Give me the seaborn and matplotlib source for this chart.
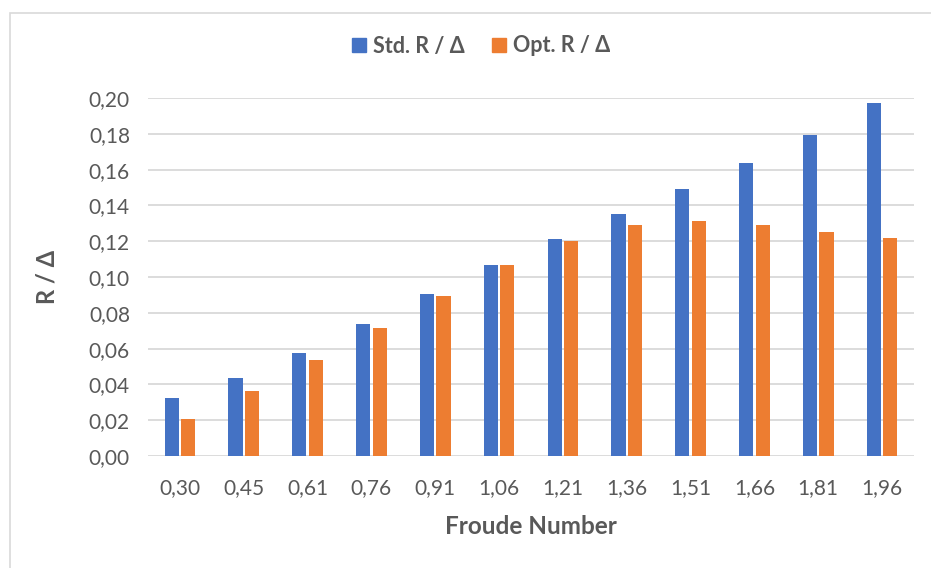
import matplotlib
matplotlib.use("Agg")
import matplotlib.pyplot as plt
import matplotlib.patches as mpatches
import seaborn as sns
import pandas as pd

froude = ["0,30", "0,45", "0,61", "0,76", "0,91", "1,06", "1,21", "1,36", "1,51", "1,66", "1,81", "1,96"]
std_vals = [0.0325, 0.0438, 0.0578, 0.0737, 0.0905, 0.1065, 0.1211, 0.1351, 0.1491, 0.1636, 0.1795, 0.1972]
opt_vals = [0.0209, 0.0364, 0.0534, 0.0716, 0.0896, 0.1065, 0.1203, 0.1289, 0.1312, 0.1289, 0.1254, 0.1218]
series = ["Std. R / Δ", "Opt. R / Δ"]
yticks = [0.00, 0.02, 0.04, 0.06, 0.08, 0.10, 0.12, 0.14, 0.16, 0.18, 0.20]

df = pd.DataFrame({
    "Froude": froude * 2,
    "val": std_vals + opt_vals,
    "Series": [series[0]] * len(froude) + [series[1]] * len(froude),
})

sns.set_theme(style="white")
plt.rcParams['font.family'] = ['Lato', 'DejaVu Sans']

colors = ["#4472C4", "#ED7D31"]
txt = "#595959"

fig = plt.figure(figsize=(9.31, 5.68), dpi=100)
ax = fig.add_axes([148/931, 1-456/568, (914-148)/931, (456-98)/568])

sns.barplot(data=df, x="Froude", y="val", hue="Series", order=froude, hue_order=series,
            palette=colors, width=0.52, gap=0.15, ax=ax, legend=False, saturation=1,
            edgecolor="none")

ax.set_ylim(0, 0.20)
ax.set_xlim(-0.5, len(froude) - 0.5)
ax.set_yticks(yticks)
ax.set_yticklabels([f"{v:.2f}".replace(".", ",") for v in yticks])
ax.yaxis.grid(True, color="#D9D9D9", linewidth=1.3)
ax.set_axisbelow(True)
for s in ax.spines.values():
    s.set_visible(False)
ax.tick_params(axis="both", length=0, labelsize=15, colors=txt)
ax.tick_params(axis="y", pad=13)
ax.tick_params(axis="x", pad=16)
ax.set_xlabel("Froude Number", fontsize=17.5, fontweight="bold", color=txt, labelpad=12)
ax.set_ylabel("R / Δ", fontsize=17, fontweight="bold", color=txt, labelpad=22)

handles = [mpatches.Patch(color=c, label=l) for c, l in zip(colors, series)]
fig.legend(handles=handles, loc="center", bbox_to_anchor=(481/931, 1-46/568), ncol=2,
           frameon=False, prop={"weight": "bold", "size": 15.5},
           handlelength=0.65, handleheight=0.65, handletextpad=0.3, columnspacing=1.3,
           labelcolor=txt)

border = mpatches.Rectangle((10/931, -0.1), 1.1, 1 - 13/568 + 0.1, transform=fig.transFigure,
                            fill=False, edgecolor="#D9D9D9", linewidth=1.2)
fig.patches.append(border)

fig.savefig("out.png", dpi=100)
